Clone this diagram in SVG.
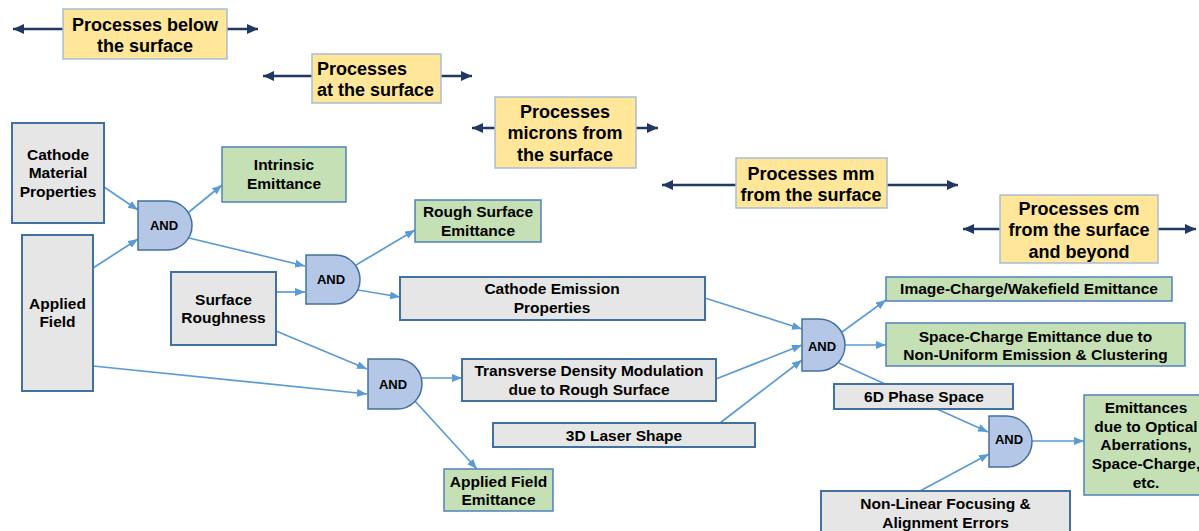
<svg xmlns="http://www.w3.org/2000/svg" width="1199" height="531" viewBox="0 0 1199 531">
<defs>
<style>
text{font-family:"Liberation Sans",Arial,sans-serif;font-weight:bold;fill:#000}
.y{fill:#FFE699;stroke:#A9BDD6;stroke-width:1.5}
.g{fill:#E7E6E6;stroke:#41719C;stroke-width:2}
.gr{fill:#C5E0B4;stroke:#4F81BD;stroke-width:1.5}
.and{fill:#B4C7E7;stroke:#41719C;stroke-width:1.5}
.t15{font-size:15.5px;text-anchor:middle}
.t18{font-size:18px}
.t13{font-size:13px;text-anchor:middle}
.c{fill:none;stroke:#5B9BD5;stroke-width:1.7;marker-end:url(#ab)}
.n{fill:none;stroke:#1F3864;stroke-width:2.5;marker-end:url(#an)}
</style>
<marker id="ab" markerUnits="userSpaceOnUse" markerWidth="10" markerHeight="8" refX="10" refY="4" orient="auto"><path d="M0,0 L10,4 L0,8 z" fill="#5B9BD5"/></marker>
<marker id="an" markerUnits="userSpaceOnUse" markerWidth="11" markerHeight="10" refX="11" refY="5" orient="auto"><path d="M0,0 L11,5 L0,10 z" fill="#1F3864"/></marker>
</defs>
<rect width="1199" height="531" fill="#fff"/>

<g id="connectors">
<path class="n" d="M63,29 H13"/><path class="n" d="M227,29 H258"/>
<path class="n" d="M312,76 H263"/><path class="n" d="M441,76 H472"/>
<path class="n" d="M495,128 H472"/><path class="n" d="M636,128 H658"/>
<path class="n" d="M736,185 H662"/><path class="n" d="M887,185 H958"/>
<path class="n" d="M1000,229 H963"/><path class="n" d="M1158,229 H1196"/>

<path class="c" d="M104,187 L138,210"/>
<path class="c" d="M93,268 L138,239"/>
<path class="c" d="M189,212 L222,185"/>
<path class="c" d="M189,238 L305,266"/>
<path class="c" d="M356,265 L415,230"/>
<path class="c" d="M276,292 L305,292"/>
<path class="c" d="M358,290 L400,297"/>
<path class="c" d="M276,331 L367,369"/>
<path class="c" d="M93,366 L367,394"/>
<path class="c" d="M422,378 L462,378"/>
<path class="c" d="M415,401 L477,469"/>
<path class="c" d="M705,298 L802,329"/>
<path class="c" d="M716,379 L802,345"/>
<path class="c" d="M720,423 L802,360"/>
<path class="c" d="M842,332 L886,300"/>
<path class="c" d="M845,345 L886,345"/>
<path d="M839,363 L885,384" fill="none" stroke="#5B9BD5" stroke-width="1.7"/>
<path class="c" d="M937,409 L988,432"/>
<path class="c" d="M920,491 L989,454"/>
<path class="c" d="M1032,441 L1084,441"/>
</g>

<g id="y1"><rect class="y" x="63" y="9" width="164" height="50"/><text class="t18" text-anchor="middle" x="145" y="31">Processes below</text><text class="t18" text-anchor="middle" x="145" y="52">the surface</text></g>
<g id="y2"><rect class="y" x="312" y="54" width="129" height="49"/><text class="t18" x="317" y="75">Processes</text><text class="t18" x="317" y="96">at the surface</text></g>
<g id="y3"><rect class="y" x="495" y="97" width="141" height="71"/><text class="t18" text-anchor="middle" x="565" y="118">Processes</text><text class="t18" text-anchor="middle" x="565" y="139">microns from</text><text class="t18" text-anchor="middle" x="565" y="161">the surface</text></g>
<g id="y4"><rect class="y" x="736" y="158" width="151" height="50"/><text class="t18" text-anchor="middle" x="811" y="180">Processes mm</text><text class="t18" text-anchor="middle" x="811" y="201">from the surface</text></g>
<g id="y5"><rect class="y" x="1000" y="195" width="158" height="68"/><text class="t18" text-anchor="middle" x="1079" y="215">Processes cm</text><text class="t18" text-anchor="middle" x="1079" y="236">from the surface</text><text class="t18" text-anchor="middle" x="1079" y="258">and beyond</text></g>

<g id="cmp"><rect class="g" x="12" y="123" width="92" height="100"/><text class="t15" x="58" y="160">Cathode</text><text class="t15" x="58" y="178">Material</text><text class="t15" x="58" y="197">Properties</text></g>
<g id="af"><rect class="g" x="22" y="235" width="71" height="156"/><text class="t15" x="57.5" y="309">Applied</text><text class="t15" x="57.5" y="327">Field</text></g>
<g id="sr"><rect class="g" x="171" y="272" width="105" height="73"/><text class="t15" x="223.5" y="305">Surface</text><text class="t15" x="223.5" y="323">Roughness</text></g>
<g id="cep"><rect class="g" x="400" y="277" width="305" height="43"/><text class="t15" x="552" y="294">Cathode Emission</text><text class="t15" x="552" y="313">Properties</text></g>
<g id="tdm"><rect class="g" x="462" y="359" width="254" height="42"/><text class="t15" x="589" y="376">Transverse Density Modulation</text><text class="t15" x="589" y="395">due to Rough Surface</text></g>
<g id="laser"><rect class="g" x="493" y="423" width="262" height="24"/><text class="t15" x="624" y="441">3D Laser Shape</text></g>
<g id="ps6d"><rect class="g" x="834" y="384" width="179" height="25"/><text class="t15" x="924" y="402">6D Phase Space</text></g>
<g id="nlf"><rect class="g" x="821" y="491" width="249" height="50"/><text class="t15" x="945.5" y="509">Non-Linear Focusing &amp;</text><text class="t15" x="945.5" y="528">Alignment Errors</text></g>

<g id="ie"><rect class="gr" x="222" y="147" width="124" height="55"/><text class="t15" x="284" y="170">Intrinsic</text><text class="t15" x="284" y="189">Emittance</text></g>
<g id="rse"><rect class="gr" x="415" y="200" width="126" height="42"/><text class="t15" x="478" y="217">Rough Surface</text><text class="t15" x="478" y="236">Emittance</text></g>
<g id="afe"><rect class="gr" x="444" y="469" width="109" height="42"/><text class="t15" x="498.5" y="487">Applied Field</text><text class="t15" x="498.5" y="505">Emittance</text></g>
<g id="ic"><rect class="gr" x="886" y="277" width="286" height="24"/><text class="t15" x="1029" y="294">Image-Charge/Wakefield Emittance</text></g>
<g id="sc"><rect class="gr" x="886" y="323" width="299" height="43"/><text class="t15" x="1035.5" y="342">Space-Charge Emittance due to</text><text class="t15" x="1035.5" y="360">Non-Uniform Emission &amp; Clustering</text></g>
<g id="oe"><rect class="gr" x="1084" y="395" width="122" height="100"/><text class="t15" x="1146" y="413">Emittances</text><text class="t15" x="1146" y="432">due to Optical</text><text class="t15" x="1146" y="450">Aberrations,</text><text class="t15" x="1146" y="469">Space-Charge,</text><text class="t15" x="1146" y="488">etc.</text></g>

<g id="and1"><path class="and" d="M138,201 H167.5 A24.5,24.5 0 0 1 167.5,250 H138 Z"/><text class="t13" x="164" y="230">AND</text></g>
<g id="and2"><path class="and" d="M306,255 H335.5 A24.5,24.5 0 0 1 335.5,304 H306 Z"/><text class="t13" x="331" y="284">AND</text></g>
<g id="and3"><path class="and" d="M368,359 H397 A25,25 0 0 1 397,409 H368 Z"/><text class="t13" x="393" y="389">AND</text></g>
<g id="and4"><path class="and" d="M802,319 H819 A26,26 0 0 1 819,371 H802 Z"/><text class="t13" x="822" y="351">AND</text></g>
<g id="and5"><path class="and" d="M989,416 H1006.5 A25.5,25.5 0 0 1 1006.5,467 H989 Z"/><text class="t13" x="1009" y="444">AND</text></g>
</svg>
